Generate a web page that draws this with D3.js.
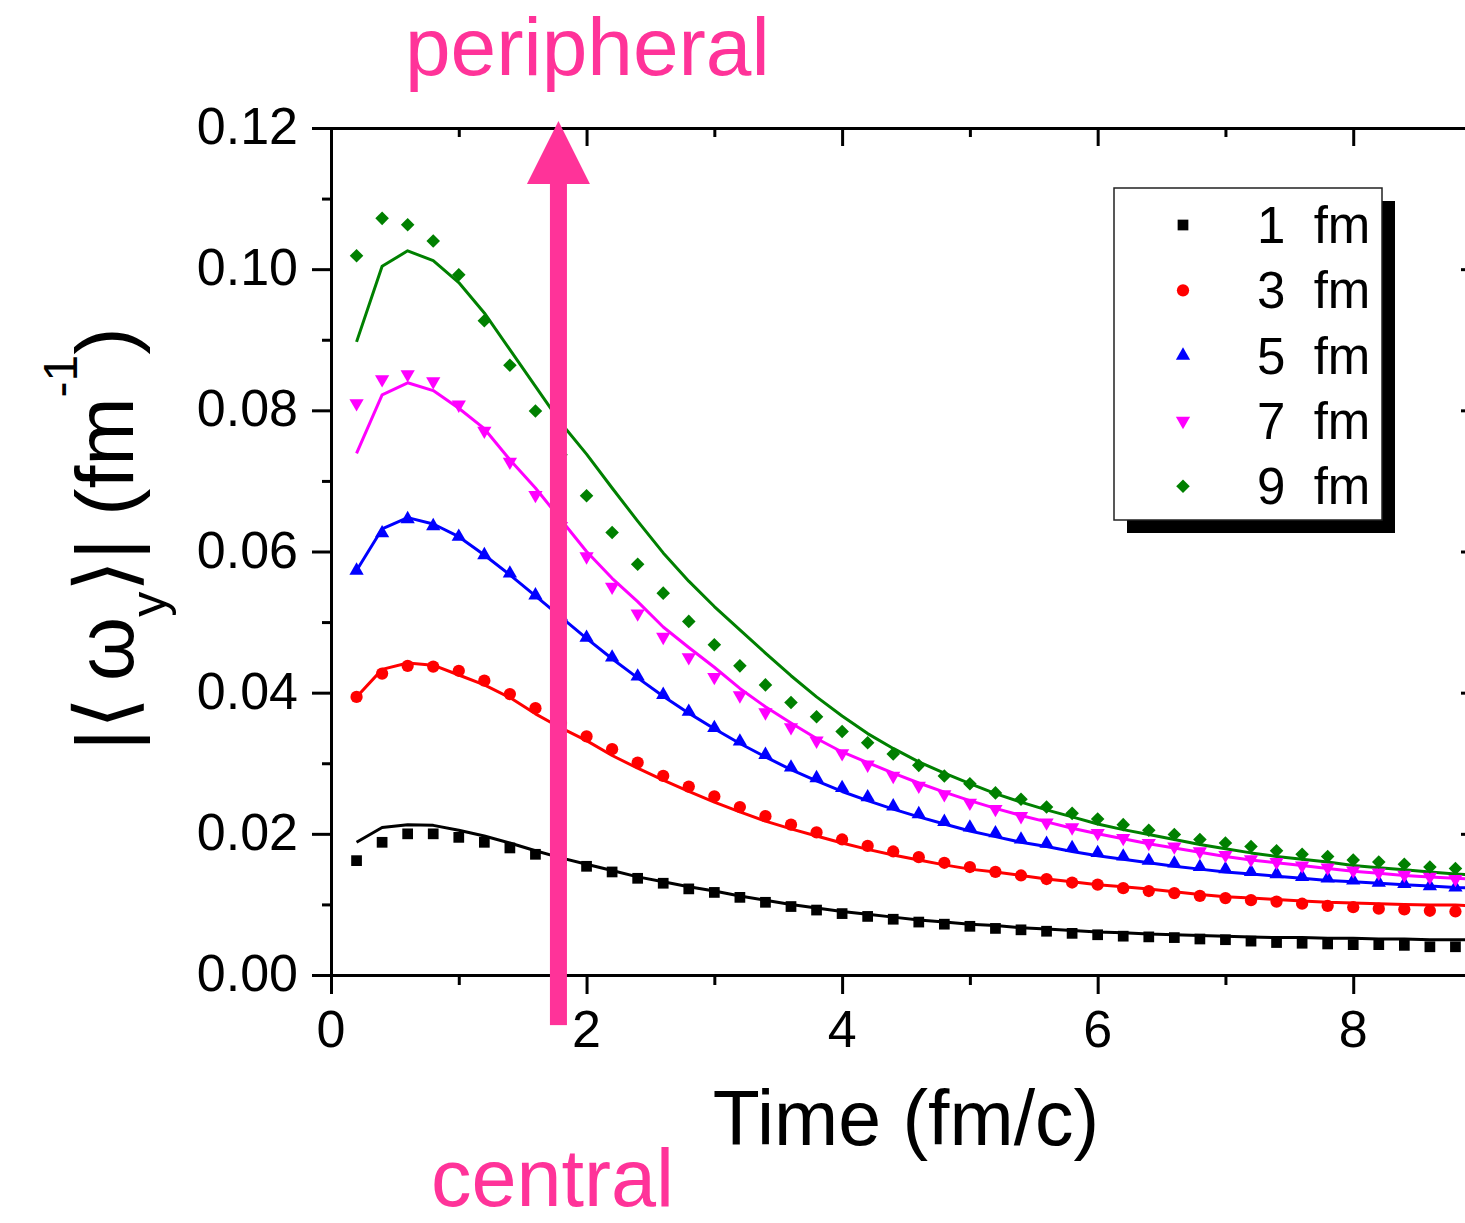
<!DOCTYPE html>
<html>
<head>
<meta charset="utf-8">
<script src="https://cdn.jsdelivr.net/npm/d3@7"></script>
<style>
  html, body { margin: 0; padding: 0; background: #fff; }
  svg { display: block; font-family: "Liberation Sans", Arial, Helvetica, sans-serif; }
</style>
</head>
<body>
<svg id="chart" width="1465" height="1223"></svg>
<script>
// Sampling times of the simulation points (fm/c)
const time = [0.2, 0.4, 0.6, 0.8, 1.0, 1.2, 1.4, 1.6, 1.8, 2.0, 2.2, 2.4, 2.6, 2.8, 3.0,
  3.2, 3.4, 3.6, 3.8, 4.0, 4.2, 4.4, 4.6, 4.8, 5.0, 5.2, 5.4, 5.6, 5.8, 6.0,
  6.2, 6.4, 6.6, 6.8, 7.0, 7.2, 7.4, 7.6, 7.8, 8.0, 8.2, 8.4, 8.6, 8.8];
// Sampling times of the model curves (fm/c)
const curveTime = [0.2, 0.4, 0.6, 0.8, 1.0, 1.2, 1.4, 1.6, 1.8, 2.0, 2.2, 2.4, 2.6, 2.8, 3.0,
  3.2, 3.4, 3.6, 3.8, 4.0, 4.2, 4.4, 4.6, 4.8, 5.0, 5.2, 5.4, 5.6, 5.8, 6.0,
  6.2, 6.4, 6.6, 6.8, 7.0, 7.2, 7.4, 7.6, 7.8, 8.0, 8.2, 8.4, 8.6, 8.8, 9.0];

// |<omega_y>| (fm^-1), symbols, per impact parameter
const points1 = [0.0162, 0.0188, 0.0200, 0.0200, 0.0195, 0.0188, 0.0180, 0.0171, 0.0162, 0.0154, 0.0146, 0.0137, 0.0130, 0.0122, 0.0117,
  0.0110, 0.0103, 0.0097, 0.0092, 0.0087, 0.0083, 0.0079, 0.0075, 0.0072, 0.0069, 0.0066, 0.0064, 0.0062, 0.0059, 0.0057,
  0.0055, 0.0054, 0.0053, 0.0051, 0.0050, 0.0048, 0.0046, 0.0045, 0.0044, 0.0043, 0.0043, 0.0042, 0.0040, 0.0040];
const points3 = [0.0394, 0.0427, 0.0438, 0.0437, 0.0431, 0.0417, 0.0398, 0.0378, 0.0357, 0.0338, 0.0320, 0.0301, 0.0282, 0.0267, 0.0253,
  0.0238, 0.0225, 0.0213, 0.0202, 0.0192, 0.0183, 0.0175, 0.0167, 0.0159, 0.0153, 0.0146, 0.0141, 0.0136, 0.0131, 0.0128,
  0.0123, 0.0119, 0.0116, 0.0112, 0.0109, 0.0106, 0.0104, 0.0101, 0.0098, 0.0096, 0.0094, 0.0093, 0.0091, 0.0090];
const points5 = [0.0573, 0.0626, 0.0646, 0.0636, 0.0621, 0.0595, 0.0569, 0.0538, 0.0508, 0.0478, 0.0450, 0.0423, 0.0397, 0.0373, 0.0350,
  0.0331, 0.0312, 0.0294, 0.0279, 0.0265, 0.0252, 0.0239, 0.0228, 0.0217, 0.0209, 0.0201, 0.0192, 0.0186, 0.0180, 0.0173,
  0.0168, 0.0162, 0.0158, 0.0153, 0.0150, 0.0146, 0.0143, 0.0139, 0.0137, 0.0134, 0.0131, 0.0129, 0.0126, 0.0124];
const points7 = [0.0810, 0.0844, 0.0851, 0.0841, 0.0808, 0.0771, 0.0727, 0.0680, 0.0636, 0.0593, 0.0550, 0.0512, 0.0479, 0.0450, 0.0422,
  0.0396, 0.0372, 0.0351, 0.0332, 0.0314, 0.0298, 0.0282, 0.0268, 0.0256, 0.0244, 0.0235, 0.0225, 0.0216, 0.0209, 0.0201,
  0.0194, 0.0187, 0.0182, 0.0175, 0.0170, 0.0164, 0.0160, 0.0155, 0.0152, 0.0148, 0.0145, 0.0142, 0.0139, 0.0136];
const points9 = [0.1019, 0.1072, 0.1063, 0.1040, 0.0992, 0.0927, 0.0864, 0.0799, 0.0737, 0.0679, 0.0627, 0.0582, 0.0541, 0.0501, 0.0468,
  0.0438, 0.0411, 0.0386, 0.0366, 0.0345, 0.0329, 0.0313, 0.0297, 0.0282, 0.0271, 0.0258, 0.0249, 0.0238, 0.0229, 0.0221,
  0.0213, 0.0205, 0.0199, 0.0192, 0.0187, 0.0182, 0.0176, 0.0171, 0.0168, 0.0163, 0.0160, 0.0157, 0.0153, 0.0151];

// |<omega_y>| (fm^-1), model curves
const curve1 = [0.0188, 0.0209, 0.0213, 0.0212, 0.0205, 0.0197, 0.0187, 0.0176, 0.0166, 0.0157, 0.0148, 0.0139, 0.0132, 0.0125, 0.0119,
  0.0112, 0.0106, 0.0100, 0.0095, 0.0090, 0.0086, 0.0082, 0.0078, 0.0075, 0.0072, 0.0070, 0.0067, 0.0065, 0.0063, 0.0061,
  0.0060, 0.0058, 0.0057, 0.0056, 0.0055, 0.0054, 0.0053, 0.0053, 0.0052, 0.0052, 0.0051, 0.0051, 0.0050, 0.0050, 0.0050];
const curve3 = [0.0394, 0.0433, 0.0442, 0.0439, 0.0425, 0.0411, 0.0393, 0.0370, 0.0350, 0.0332, 0.0311, 0.0293, 0.0276, 0.0260, 0.0245,
  0.0231, 0.0218, 0.0207, 0.0197, 0.0187, 0.0178, 0.0170, 0.0163, 0.0156, 0.0150, 0.0146, 0.0141, 0.0136, 0.0132, 0.0128,
  0.0125, 0.0122, 0.0118, 0.0114, 0.0111, 0.0109, 0.0107, 0.0105, 0.0103, 0.0102, 0.0101, 0.0100, 0.0099, 0.0099, 0.0098];
const curve5 = [0.0573, 0.0632, 0.0648, 0.0639, 0.0621, 0.0595, 0.0567, 0.0537, 0.0507, 0.0477, 0.0448, 0.0421, 0.0395, 0.0371, 0.0349,
  0.0328, 0.0309, 0.0291, 0.0275, 0.0260, 0.0247, 0.0235, 0.0224, 0.0214, 0.0204, 0.0196, 0.0188, 0.0182, 0.0175, 0.0169,
  0.0164, 0.0159, 0.0154, 0.0150, 0.0146, 0.0143, 0.0140, 0.0137, 0.0134, 0.0132, 0.0130, 0.0128, 0.0126, 0.0124, 0.0123];
const curve7 = [0.0739, 0.0822, 0.0839, 0.0828, 0.0803, 0.0774, 0.0730, 0.0690, 0.0645, 0.0600, 0.0562, 0.0529, 0.0493, 0.0464, 0.0436,
  0.0406, 0.0380, 0.0357, 0.0335, 0.0316, 0.0301, 0.0286, 0.0272, 0.0259, 0.0247, 0.0236, 0.0226, 0.0217, 0.0208, 0.0200,
  0.0193, 0.0186, 0.0180, 0.0174, 0.0168, 0.0163, 0.0159, 0.0155, 0.0151, 0.0147, 0.0144, 0.0141, 0.0139, 0.0137, 0.0135];
const curve9 = [0.0897, 0.1004, 0.1026, 0.1012, 0.0981, 0.0938, 0.0886, 0.0834, 0.0782, 0.0738, 0.0690, 0.0643, 0.0598, 0.0558, 0.0522,
  0.0489, 0.0456, 0.0424, 0.0394, 0.0367, 0.0342, 0.0321, 0.0302, 0.0286, 0.0271, 0.0257, 0.0245, 0.0234, 0.0224, 0.0214,
  0.0206, 0.0199, 0.0192, 0.0185, 0.0179, 0.0173, 0.0168, 0.0164, 0.0160, 0.0155, 0.0152, 0.0149, 0.0146, 0.0143, 0.0141];

const seriesLabels = ["1  fm", "3  fm", "5  fm", "7  fm", "9  fm"];
const seriesColors = ["#000000", "#ff0000", "#0000ff", "#ff00ff", "#008000"];
const seriesPoints = [points1, points3, points5, points7, points9];
const seriesCurves = [curve1, curve3, curve5, curve7, curve9];

const xMajorTicks = [0, 2, 4, 6, 8];
const xMinorTicks = [1, 3, 5, 7, 9];
const yMajorTicks = [0.00, 0.02, 0.04, 0.06, 0.08, 0.10, 0.12];
const yMinorTicks = [0.01, 0.03, 0.05, 0.07, 0.09, 0.11];

// Centrality arrow (fm/c, fm^-1)
const arrowTime = 1.78;
const arrowFrom = -0.0071;
const arrowTo = 0.121;
const arrowLabelTop = "peripheral";
const arrowLabelBottom = "central";
const annotationColor = "#ff3399";

const svg = d3.select("#chart");
svg.append("rect").attr("width", 1465).attr("height", 1223).attr("fill", "#fff");

const x = d3.scaleLinear().domain([0, 9]).range([331, 1481]);
const y = d3.scaleLinear().domain([0, 0.12]).range([975, 128]);

svg.append("defs").append("clipPath").attr("id", "plot-clip")
  .append("rect")
  .attr("x", x(0)).attr("y", y(0.12))
  .attr("width", x(9) - x(0)).attr("height", y(0) - y(0.12));

// ---- model curves ----
const plot = svg.append("g").attr("clip-path", "url(#plot-clip)");
const line = d3.line().x(d => x(d[0])).y(d => y(d[1]));
seriesCurves.forEach((c, i) => {
  plot.append("path")
    .datum(curveTime.map((t, k) => [t, c[k]]))
    .attr("d", line)
    .attr("fill", "none")
    .attr("stroke", seriesColors[i])
    .attr("stroke-width", 3)
    .attr("stroke-linejoin", "round");
});

// ---- symbols ----
const symbolDefs = [
  { type: d3.symbolSquare, size: 115, rot: 0 },
  { type: d3.symbolCircle, size: 118, rot: 0 },
  { type: d3.symbolTriangle, size: 88, rot: 0 },
  { type: d3.symbolTriangle, size: 88, rot: 180 },
  { type: d3.symbolSquare, size: 92, rot: 45 }
];
function symbolPath(i) { return d3.symbol().type(symbolDefs[i].type).size(symbolDefs[i].size)(); }

seriesPoints.forEach((p, i) => {
  plot.append("g").selectAll("path")
    .data(time.map((t, k) => [t, p[k]]))
    .join("path")
    .attr("d", symbolPath(i))
    .attr("transform", d => `translate(${x(d[0])},${y(d[1])}) rotate(${symbolDefs[i].rot})`)
    .attr("fill", seriesColors[i]);
});

// ---- axes ----
function styleAxis(g) {
  g.selectAll(".domain").attr("stroke", "#000").attr("stroke-width", 3).attr("stroke-linecap", "square");
  g.selectAll(".tick line").attr("stroke", "#000").attr("stroke-width", 3);
  g.selectAll(".tick text").remove();
}
// bottom
svg.append("g").attr("transform", `translate(0,${y(0)})`)
  .call(d3.axisBottom(x).tickValues(xMinorTicks).tickSize(10).tickSizeOuter(0)).call(styleAxis);
svg.append("g").attr("transform", `translate(0,${y(0)})`)
  .call(d3.axisBottom(x).tickValues(xMajorTicks).tickSize(19).tickSizeOuter(0)).call(styleAxis);
svg.append("g").selectAll("text").data(xMajorTicks).join("text")
  .attr("x", d => x(d)).attr("y", 1047)
  .attr("text-anchor", "middle").style("font-size", "52px").text(d => d3.format("d")(d));
// top
svg.append("g").attr("transform", `translate(0,${y(0.12)})`)
  .call(d3.axisTop(x).tickValues(xMinorTicks).tickSize(-9).tickSizeOuter(0)).call(styleAxis);
svg.append("g").attr("transform", `translate(0,${y(0.12)})`)
  .call(d3.axisTop(x).tickValues(xMajorTicks).tickSize(-18).tickSizeOuter(0)).call(styleAxis);
// left
svg.append("g").attr("transform", `translate(${x(0)},0)`)
  .call(d3.axisLeft(y).tickValues(yMinorTicks).tickSize(9).tickSizeOuter(0)).call(styleAxis);
svg.append("g").attr("transform", `translate(${x(0)},0)`)
  .call(d3.axisLeft(y).tickValues(yMajorTicks).tickSize(19).tickSizeOuter(0)).call(styleAxis);
svg.append("g").selectAll("text").data(yMajorTicks).join("text")
  .attr("x", 298).attr("y", d => y(d) + 16)
  .attr("text-anchor", "end").style("font-size", "52px").text(d => d3.format(".2f")(d));
// right
svg.append("g").attr("transform", `translate(${x(9)},0)`)
  .call(d3.axisRight(y).tickValues(yMinorTicks).tickSize(-9).tickSizeOuter(0)).call(styleAxis);
svg.append("g").attr("transform", `translate(${x(9)},0)`)
  .call(d3.axisRight(y).tickValues(yMajorTicks).tickSize(-20).tickSizeOuter(0)).call(styleAxis);

// ---- axis titles ----
svg.append("text")
  .attr("x", (x(0) + x(9)) / 2).attr("y", 1145)
  .attr("text-anchor", "middle").style("font-size", "77px")
  .text("Time (fm/c)");

const yTitle = svg.append("text")
  .attr("transform", "translate(133,539) rotate(-90)")
  .attr("text-anchor", "middle")
  .style("font-size", "82px");
yTitle.append("tspan").text("|\u27E8\u2009\u03C9");
yTitle.append("tspan").attr("dy", 33).style("font-size", "50px").text("y");
yTitle.append("tspan").attr("dy", -33).text("\u27E9| (fm");
yTitle.append("tspan").attr("dy", -56).style("font-size", "48px").text("-1");
yTitle.append("tspan").attr("dy", 56).text(")");

// ---- legend ----
const legend = svg.append("g");
legend.append("rect").attr("x", 1127).attr("y", 201).attr("width", 268).attr("height", 332).attr("fill", "#000");
legend.append("rect").attr("x", 1114).attr("y", 188).attr("width", 268).attr("height", 332)
  .attr("fill", "#fff").attr("stroke", "#222").attr("stroke-width", 1.5);
seriesLabels.forEach((lab, i) => {
  const cy = 225 + i * 65.3;
  legend.append("path")
    .attr("d", symbolPath(i))
    .attr("transform", `translate(1183,${cy}) rotate(${symbolDefs[i].rot})`)
    .attr("fill", seriesColors[i]);
  legend.append("text")
    .attr("x", 1257).attr("y", cy + 18)
    .attr("xml:space", "preserve").style("white-space", "pre")
    .style("font-size", "51px").text(lab);
});

// ---- centrality arrow ----
const ax = x(arrowTime);
const headBase = y(arrowTo) + 63;
svg.append("rect")
  .attr("x", ax - 8.5).attr("y", headBase - 1)
  .attr("width", 17).attr("height", y(arrowFrom) - headBase + 1)
  .attr("fill", annotationColor);
svg.append("path")
  .attr("d", `M${ax - 31.5},${headBase} L${ax + 31.5},${headBase} L${ax},${y(arrowTo)} Z`)
  .attr("fill", annotationColor);
svg.append("text")
  .attr("x", 405).attr("y", 75)
  .style("font-size", "82px").attr("fill", annotationColor)
  .text(arrowLabelTop);
svg.append("text")
  .attr("x", 431).attr("y", 1206)
  .style("font-size", "81px").attr("fill", annotationColor)
  .text(arrowLabelBottom);
</script>
</body>
</html>
